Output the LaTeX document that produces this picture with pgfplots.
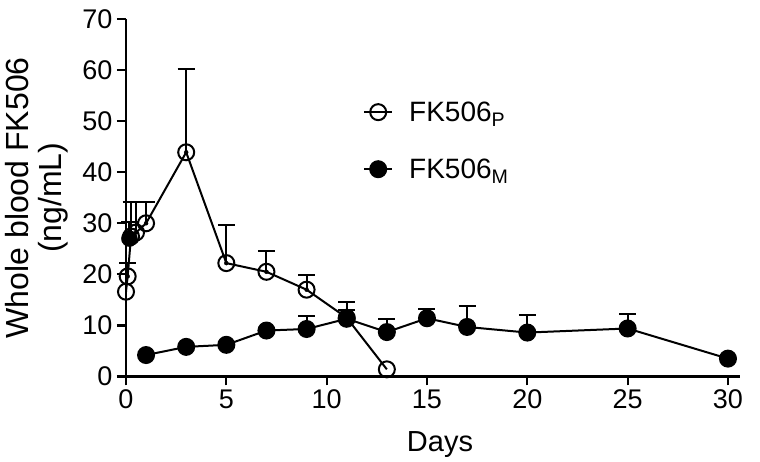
\documentclass[border=0pt]{standalone}
\usepackage{pgfplots}
\pgfplotsset{compat=1.18}
\usepackage{pgfplotstable}
\usepackage{fontspec}
\setmainfont{Liberation Sans}

\pgfplotstableread{
x y e
0 16.6 0
0.083 19.6 2.6
0.25 27.4 6.8
0.5 28.2 6.0
1 30.0 4.2
3 43.9 16.4
5 22.2 7.5
7 20.5 4.1
9 17.0 2.9
11 11.5 1.6
13 1.4 0
}\tblP

\pgfplotstableread{
x y e
1 4.2 0
3 5.8 0
5 6.2 0
7 9.0 0
9 9.3 2.6
11 11.3 3.2
13 8.7 2.6
15 11.4 1.8
17 9.7 4.2
20 8.6 3.5
25 9.4 2.9
30 3.5 0
}\tblM

\pgfplotstableread{
x y e
0.083 19.6 2.6
0.17 27.0 3.3
0.25 27.4 6.8
0.5 28.2 6.0
1 30.0 4.2
3 43.9 16.4
5 22.2 7.5
7 20.5 4.1
9 17.0 2.9
11 11.5 1.6
9 9.3 2.6
11 11.3 3.2
13 8.7 2.6
15 11.4 1.8
17 9.7 4.2
20 8.6 3.5
25 9.4 2.9
}\tblErr

\begin{document}
\begin{tikzpicture}
\begin{axis}[
  at={(126pt,85.5pt)}, anchor=south west,
  scale only axis, width=614pt, height=357.5pt,
  xmin=0, xmax=30.6, ymin=0, ymax=70,
  axis x line=bottom, axis y line=left,
  axis line style={-, line width=2.2pt, black},
  xtick={0,5,...,30}, ytick={0,10,...,70},
  tick align=outside, tick pos=left,
  major tick length=9pt,
  every tick/.style={line width=2.2pt, black},
  /pgf/number format/assume math mode=true,
  tick label style={font=\fontsize{27}{27}\selectfont},
  xticklabel style={yshift=-1pt},
  yticklabel style={xshift=-1pt},
  xlabel={Days},
  xlabel style={font=\fontsize{29}{29}\selectfont, yshift=-16pt, xshift=7pt},
  ylabel={Whole blood FK506\\(ng/mL)},
  every axis y label/.style={at={(axis description cs:-0.091,0.5)}, rotate=90, anchor=south, align=center, inner sep=2pt, font=\fontsize{32}{33}\selectfont},
  clip=false,
  legend style={draw=none, fill=none, font=\fontsize{28}{28}\selectfont,
    at={(axis description cs:0.386,0.775)}, anchor=north west,
    row sep=32pt, inner sep=0pt, legend cell align=left,
    /tikz/every odd column/.append style={column sep=14pt}},
  legend image code/.code={\draw[mark repeat=2,mark phase=2,#1] plot coordinates {(0pt,0pt)(14pt,0pt)(28pt,0pt)};},
]
% error bars (upper only)
\addplot[forget plot, only marks, mark=*, mark options={draw=none, fill=none},
  error bars/.cd, y dir=plus, y explicit, error mark=-,
  error bar style={draw=black, solid, line width=2pt},
  error mark options={rotate=90, draw=black, line width=2pt, mark size=8.5pt}]
  table[x=x, y=y, y error=e] {\tblErr};

\addplot[black, line width=2pt, mark=o, mark size=8pt, mark options={line width=2pt}]
  table[x=x, y=y] {\tblP};
\addlegendentry{FK506\textsubscript{P}}

\addplot[black, line width=2pt, mark=*, mark size=8pt, mark options={fill=black}]
  table[x=x, y=y] {\tblM};
\addlegendentry{FK506\textsubscript{M}}

\addplot[forget plot, only marks, black, mark=*, mark size=8pt, mark options={fill=black}]
  coordinates {(0.17,27.0)};
\end{axis}
\pgfresetboundingbox
\useasboundingbox (0,0) rectangle (760pt,462pt);
\end{tikzpicture}
\end{document}
